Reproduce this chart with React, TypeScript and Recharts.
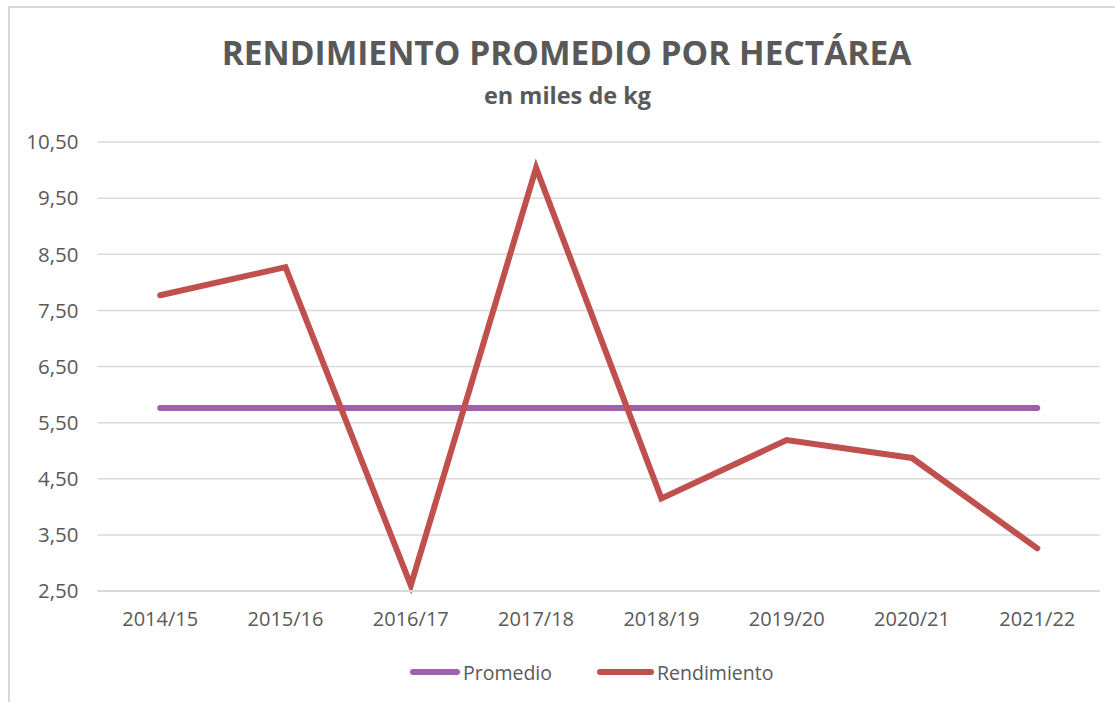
import { CartesianGrid, Legend, Line, LineChart, XAxis, YAxis } from 'recharts';

const seasons = ['2014/15', '2015/16', '2016/17', '2017/18', '2018/19', '2019/20', '2020/21', '2021/22'];
const promedio = [5.76, 5.76, 5.76, 5.76, 5.76, 5.76, 5.76, 5.76];
const rendimiento = [7.77, 8.27, 2.6, 10.04, 4.15, 5.19, 4.87, 3.26];
const yTicks = [2.5, 3.5, 4.5, 5.5, 6.5, 7.5, 8.5, 9.5, 10.5];

const rows = seasons.map((season, i) => ({
  season,
  promedio: promedio[i],
  rendimiento: rendimiento[i],
}));

const FONT = '"Open Sans", "Noto Sans", sans-serif';
const TEXT = '#595959';
const GRID = '#d9d9d9';

const fmt = (v: number) => v.toFixed(2).replace('.', ',');

function LegendRow({ payload }: any) {
  return (
    <div style={{ display: 'flex', alignItems: 'center', paddingLeft: 410, height: 30, fontFamily: FONT, fontSize: 19.5, color: TEXT }}>
      {(payload || []).map((p: any, i: number) => (
        <div key={p.value} style={{ display: 'flex', alignItems: 'center', marginLeft: i ? 45 : 0 }}>
          <span style={{ width: i ? 57 : 50, height: 6, borderRadius: 3, background: p.color, marginRight: 3 }} />
          <span>{p.value}</span>
        </div>
      ))}
    </div>
  );
}

export default function App() {
  return (
    <div style={{ position: 'absolute', left: 0, top: 0, width: 1115, height: 702, background: '#fff', overflow: 'hidden' }}>
      <div style={{ position: 'absolute', left: 8, top: 6, right: -10, bottom: -10, borderTop: `2px solid ${GRID}`, borderLeft: `2px solid ${GRID}` }} />
      <div style={{ position: 'absolute', top: 29, left: 0, width: 1133, textAlign: 'center', fontFamily: FONT, fontWeight: 700, fontSize: 33.5, color: TEXT }}>
        RENDIMIENTO PROMEDIO POR HECTÁREA
      </div>
      <div style={{ position: 'absolute', top: 79, left: 0, width: 1135, textAlign: 'center', fontFamily: FONT, fontWeight: 700, fontSize: 23.5, color: TEXT }}>
        en miles de kg
      </div>
      <div style={{ position: 'absolute', left: 0, top: 0 }}>
        <LineChart width={1115} height={702} data={rows} margin={{ top: 142, right: 15, bottom: 51, left: 0 }}>
          <CartesianGrid vertical={false} stroke={GRID} strokeWidth={1.5} />
          <XAxis
            dataKey="season"
            padding={{ left: 62.7, right: 62.7 }}
            axisLine={{ stroke: GRID, strokeWidth: 2 }}
            tickLine={false}
            tickMargin={15}
            height={30}
            tick={{ fill: TEXT, fontFamily: FONT, fontSize: 20 }}
          />
          <YAxis
            width={97.5}
            domain={[2.5, 10.5]}
            ticks={yTicks}
            tickFormatter={fmt}
            axisLine={false}
            tickLine={false}
            tickMargin={13}
            tick={{ fill: TEXT, fontFamily: FONT, fontSize: 20.5 }}
          />
          <Legend
            content={<LegendRow />}
            wrapperStyle={{ position: 'absolute', top: 657, left: 0, width: 1115 }}
          />
          <Line
            dataKey="promedio"
            name="Promedio"
            stroke="#9e5fab"
            strokeWidth={6}
            strokeLinecap="round"
            strokeLinejoin="round"
            dot={false}
            activeDot={false}
            isAnimationActive={false}
          />
          <Line
            dataKey="rendimiento"
            name="Rendimiento"
            stroke="#c0504d"
            strokeWidth={6}
            strokeLinecap="round"
            strokeLinejoin="miter"
            dot={false}
            activeDot={false}
            isAnimationActive={false}
          />
        </LineChart>
      </div>
    </div>
  );
}
